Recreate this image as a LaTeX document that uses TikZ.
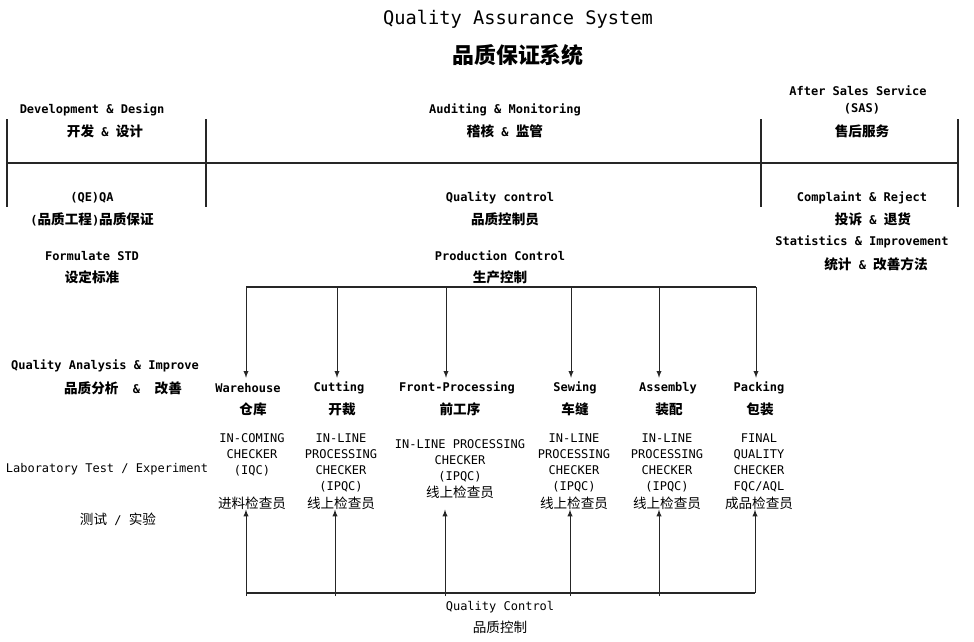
\documentclass[tikz,border=0pt]{standalone}
\usepackage{fontspec}
\setmainfont{DejaVu Sans Mono}
\newfontfamily\cjk{Noto Sans CJK SC}
\usetikzlibrary{arrows}
\newcommand\en[1]{{\fontspec{DejaVu Sans Mono}\fontsize{9}{12}\selectfont #1}}
\newcommand\zhline[1]{{\cjk\fontsize{10.2}{12}\selectfont #1}}
\tikzset{
  hd/.style={font=\fontsize{9}{12}\selectfont\bfseries, inner sep=0pt},
  cn/.style={font=\cjk\fontsize{10.2}{12}\selectfont\bfseries, inner sep=0pt},
  plain/.style={font=\fontsize{9}{12}\selectfont, inner sep=0pt},
  plaincn/.style={font=\cjk\fontsize{10.2}{12}\selectfont, inner sep=0pt},
  chk/.style={font=\fontsize{9}{12}\selectfont, align=center, inner sep=0pt, anchor=north},
  bar/.style={line width=1.9pt, black!85},
  post/.style={line width=1.5pt, black!85},
  feed/.style={line width=0.75pt, black!85, -latex}
}
\begin{document}
\begin{tikzpicture}[x=0.75pt, y=-0.75pt]
 \useasboundingbox (0,0) rectangle (974,642);
 \node [font=\fontsize{14}{16}\selectfont, inner sep=0pt] (title) at (518,19) {Quality Assurance System};
 \node [font=\cjk\fontsize{16.4}{18}\selectfont\bfseries, inner sep=0pt] (titlecn) at (518,55) {品质保证系统};
 % top row
 \node [hd] (dev) at (92,110) {Development \& Design};
 \node [cn] (devcn) at (105,131) {开发\en{\bfseries\ \&\ }设计};
 \node [hd] (aud) at (505,110) {Auditing \& Monitoring};
 \node [cn] (audcn) at (505,131) {稽核\en{\bfseries\ \&\ }监管};
 \node [hd] (sas) at (858,91) {After Sales Service};
 \node [hd] (sasab) at (862,109) {(SAS)};
 \node [cn] (sascn) at (862,131) {售后服务};
 \draw [post] (7,119) -- (7,207);
 \draw [post] (206,119) -- (206,207);
 \draw [post] (761,119) -- (761,207);
 \draw [post] (958,119) -- (958,207);
 \draw [bar] (7,163) -- (958,163);
 % second row
 \node [hd] (qa) at (92,198) {(QE)QA};
 \node [cn] (qacn) at (92,219) {\en{\bfseries(}品质工程\en{\bfseries)}品质保证};
 \node [hd] (std) at (92,256) {Formulate STD};
 \node [cn] (stdcn) at (92,277) {设定标准};
 \node [hd] (qc) at (500,198) {Quality control};
 \node [cn] (qccn) at (505,219) {品质控制员};
 \node [hd] (pc) at (500,256) {Production Control};
 \node [cn] (pccn) at (500,277) {生产控制};
 \node [hd] (cr) at (862,198) {Complaint \& Reject};
 \node [cn] (crcn) at (873,219) {投诉\en{\bfseries\ \&\ }退货};
 \node [hd] (si) at (862,242) {Statistics \& Improvement};
 \node [cn] (sicn) at (876,264) {统计\en{\bfseries\ \&\ }改善方法};
 % left column
 \node [hd] (qai) at (105,366) {Quality Analysis \& Improve};
 \node [cn] (qaicn) at (123,388) {品质分析\en{\bfseries\ \ \&\ \ }改善};
 \node [plain] (lab) at (107,469) {Laboratory Test / Experiment};
 \node [plaincn] (labcn) at (118,519) {测试\en{\ /\ }实验};
 % process steps
 \node [hd] (wh) at (248,388) {Warehouse};
 \node [cn] (whcn) at (253,409) {仓库};
 \node [hd] (cut) at (339,388) {Cutting};
 \node [cn] (cutcn) at (342,409) {开裁};
 \node [hd] (fp) at (457,388) {Front-Processing};
 \node [cn] (fpcn) at (460,409) {前工序};
 \node [hd] (sew) at (575,388) {Sewing};
 \node [cn] (sewcn) at (575,409) {车缝};
 \node [hd] (asm) at (668,388) {Assembly};
 \node [cn] (asmcn) at (669,409) {装配};
 \node [hd] (pk) at (759,388) {Packing};
 \node [cn] (pkcn) at (760,409) {包装};
 % checkers
 \node [chk] (iqc) at (252,433) {IN-COMING\\CHECKER\\(IQC)\\[13.5pt]\zhline{进料检查员}};
 \node [chk] (ipqca) at (341,433) {IN-LINE\\PROCESSING\\CHECKER\\(IPQC)\\[1.5pt]\zhline{线上检查员}};
 \node [chk] (ipqcb) at (460,439) {IN-LINE PROCESSING\\CHECKER\\(IPQC)\\[1pt]\zhline{线上检查员}};
 \node [chk] (ipqcc) at (574,433) {IN-LINE\\PROCESSING\\CHECKER\\(IPQC)\\[1.5pt]\zhline{线上检查员}};
 \node [chk] (ipqcd) at (667,433) {IN-LINE\\PROCESSING\\CHECKER\\(IPQC)\\[1.5pt]\zhline{线上检查员}};
 \node [chk] (fqc) at (759,433) {FINAL\\QUALITY\\CHECKER\\FQC/AQL\\[1.5pt]\zhline{成品检查员}};
 % production control bar
 \foreach \n/\x in {1/246,2/337,3/446,4/571,5/659,6/756}
  \coordinate (t\n) at (\x,287);
 \draw [bar] (t1) -- (t6);
 \foreach \n in {1,...,6}
  \draw [feed, shorten >=4pt] (t\n) -- (t\n |- wh.north);
 % quality control bar
 \node [plain] (qcb) at (500,607) {Quality Control};
 \node [plaincn] (qcbcn) at (500,627) {品质控制};
 \foreach \n/\x in {1/246,2/335,3/445,4/570,5/659,6/755}
  \coordinate (b\n) at (\x,593);
 \draw [bar] (b1) -- (b6);
 \foreach \n in {1,...,5}
  \draw [feed] (b\n) ++(0,3) -- (b\n |- iqc.south);
 \draw [feed] (b6) -- (b6 |- iqc.south);
\end{tikzpicture}
\end{document}
